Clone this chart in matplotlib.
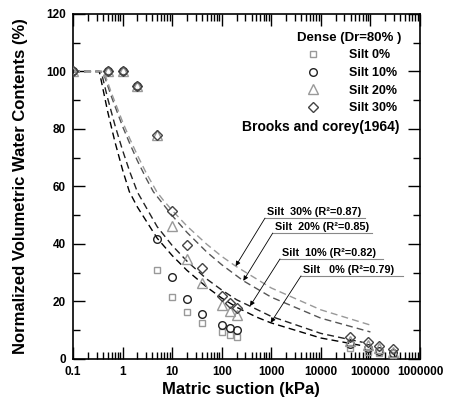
import numpy as np
import matplotlib.pyplot as plt
from matplotlib.ticker import MultipleLocator, LogLocator, NullFormatter

plt.rcParams['font.family'] = ['Liberation Sans', 'DejaVu Sans']
plt.rcParams['font.weight'] = 'bold'

# measured data (matric suction in kPa, normalized water content in %)
suction = [0.1, 0.5, 1, 2, 5, 10, 20, 40, 100, 150, 200, 38000, 88000, 151000, 281000]
silt0 = [100, 100, 100, 95, 30.8, 21.5, 16.2, 12.4, 9.3, 8.3, 7.8, 3.7, 2.5, 2.0, 1.4]
silt10 = [100, 100, 100, 95, 41.6, 28.6, 21.0, 15.7, 11.8, 10.9, 10.0, 5.2, 3.7, 2.9, 2.0]
silt20 = [100, 100, 100, 95, 78, 46.3, 34.9, 26.5, 18.8, 16.7, 15.3, 6.4, 4.9, 3.7, 2.5]
silt30 = [100, 100, 100, 95, 78, 51.6, 39.7, 31.8, 22.0, 19.4, 17.8, 7.8, 6.0, 4.5, 3.4]

# Brooks and Corey curves
bc0_x = [0.1, 0.34, 0.5, 0.7, 1, 1.37, 2, 5, 10, 20, 50, 100, 200, 500, 973, 1e4, 7e4]
bc0_y = [100, 100, 86.1, 75.6, 65.8, 58.2, 52.8, 42, 36, 30.8, 25, 21.2, 18.0, 14.6, 12.6, 7.3, 4.6]
bc10_x = [0.1, 0.37, 0.5, 0.7, 1, 1.4, 2, 5, 10, 20, 50, 100, 200, 372, 1000, 1e4, 7e4]
bc10_y = [100, 100, 90.7, 81.4, 72.6, 65.1, 58.0, 46, 39.5, 34, 27.8, 24, 20.6, 18.4, 14.8, 8.9, 5.8]
bc20_x = [0.1, 0.40, 0.6, 1, 1.4, 2, 3, 4.17, 10, 20, 50, 100, 273, 1000, 1e4, 1e5]
bc20_y = [100, 100, 91.1, 80.9, 74.9, 68.9, 62.8, 58.2, 49.9, 44.0, 37.2, 32.8, 27.2, 21.5, 14.2, 9.4]
bc30_x = [0.1, 0.42, 0.6, 1, 1.4, 2, 3, 4.88, 6.6, 10, 20, 50, 100, 191, 1000, 1e4, 1e5]
bc30_y = [100, 100, 92.4, 82.5, 76.6, 70.8, 64.7, 58.2, 55.3, 51.7, 46.2, 39.9, 35.7, 32.3, 24.7, 17.1, 11.8]

labels = ['Silt 0%', 'Silt 10%', 'Silt 20%', 'Silt 30%']
fit_labels = ['Silt   0% (R²=0.79)', 'Silt  10% (R²=0.82)', 'Silt  20% (R²=0.85)', 'Silt  30% (R²=0.87)']
xtick_labels = ['0.1', '1', '10', '100', '1000', '10000', '100000', '1000000']

fig = plt.figure(figsize=(4.5, 4.03), dpi=100)
ax = fig.add_axes([0.1622, 0.1092, 0.7711, 0.8561])

# fitted curves
ax.plot(bc0_x, bc0_y, color='black', lw=1, ls=(0, (5, 3)), zorder=2)
ax.plot(bc10_x, bc10_y, color='#222222', lw=1, ls=(0, (5, 3)), zorder=2)
ax.plot(bc20_x, bc20_y, color='#555555', lw=1, ls=(0, (5, 3)), zorder=2)
ax.plot(bc30_x, bc30_y, color='#999999', lw=1, ls=(0, (5, 3)), zorder=2)

# measured points
ax.plot(suction, silt0, 's', ms=5, mfc='none', mec='#999999', mew=1, label=labels[0], zorder=3)
ax.plot(suction, silt10, 'o', ms=5.5, mfc='none', mec='#222222', mew=1, label=labels[1], zorder=3)
ax.plot(suction, silt20, '^', ms=6.5, mfc='none', mec='#999999', mew=1, label=labels[2], zorder=3)
ax.plot(suction, silt30, 'D', ms=4.8, mfc='none', mec='#444444', mew=1, label=labels[3], zorder=3)

# annotation of the fitted curves
tips = [(973, 12.6), (372, 18.4), (273, 27.2), (191, 32.3)]
line_y = [28.9, 34.8, 43.8, 49.0]
line_x0 = [3980, 1500, 1070, 747]
line_x1 = [4.5e5, 1.8e5, 1.08e5, 7.8e4]
for lab, tip, ly, x0, x1 in zip(fit_labels, tips, line_y, line_x0, line_x1):
    ax.plot([x0, x1], [ly, ly], color='#888888', lw=0.8, zorder=2, clip_on=False)
    ax.annotate('', xy=tip, xytext=(x0, ly),
                arrowprops=dict(arrowstyle='-|>', color='black', lw=0.6,
                                mutation_scale=7, shrinkA=0, shrinkB=0))
    ax.text(x0 * 1.1, ly + 0.4, lab, fontsize=7.8, fontweight='bold', ha='left', va='bottom')

ax.set_xscale('log')
ax.set_xlim(0.1, 1e6)
ax.set_ylim(0, 120)
ax.set_xticks([0.1, 1, 10, 100, 1000, 1e4, 1e5, 1e6])
ax.set_xticklabels(xtick_labels)
ax.xaxis.set_minor_locator(LogLocator(base=10, subs=np.arange(2, 10)))
ax.xaxis.set_minor_formatter(NullFormatter())
ax.yaxis.set_major_locator(MultipleLocator(20))
ax.yaxis.set_minor_locator(MultipleLocator(10))
ax.tick_params(which='both', direction='in', top=True, right=True, width=1)
ax.tick_params(which='major', length=8.5, labelsize=8.5)
ax.tick_params(which='minor', length=5)
ax.tick_params(axis='x', pad=5)
ax.tick_params(axis='y', pad=5)
for s in ax.spines.values():
    s.set_linewidth(1.2)

ax.set_xlabel('Matric suction (kPa)', fontsize=12, fontweight='bold')
ax.set_ylabel('Normalized Volumetric Water Contents (%)', fontsize=12, fontweight='bold')
ax.xaxis.set_label_coords(0.484, -0.068)
ax.yaxis.set_label_coords(-0.13, 0.5)

leg = ax.legend(loc='upper right', bbox_to_anchor=(0.96, 0.963), frameon=False,
                title='Dense (Dr=80% )', fontsize=9, handletextpad=1.9,
                labelspacing=0.45, borderaxespad=0)
leg.get_title().set_fontweight('bold')
leg.get_title().set_fontsize(9.5)
for t in leg.get_texts():
    t.set_fontweight('bold')

ax.text(0.942, 0.672, 'Brooks and corey(1964)', transform=ax.transAxes,
        fontsize=10, fontweight='bold', ha='right', va='center')

fig.savefig('out.png', dpi=100)
